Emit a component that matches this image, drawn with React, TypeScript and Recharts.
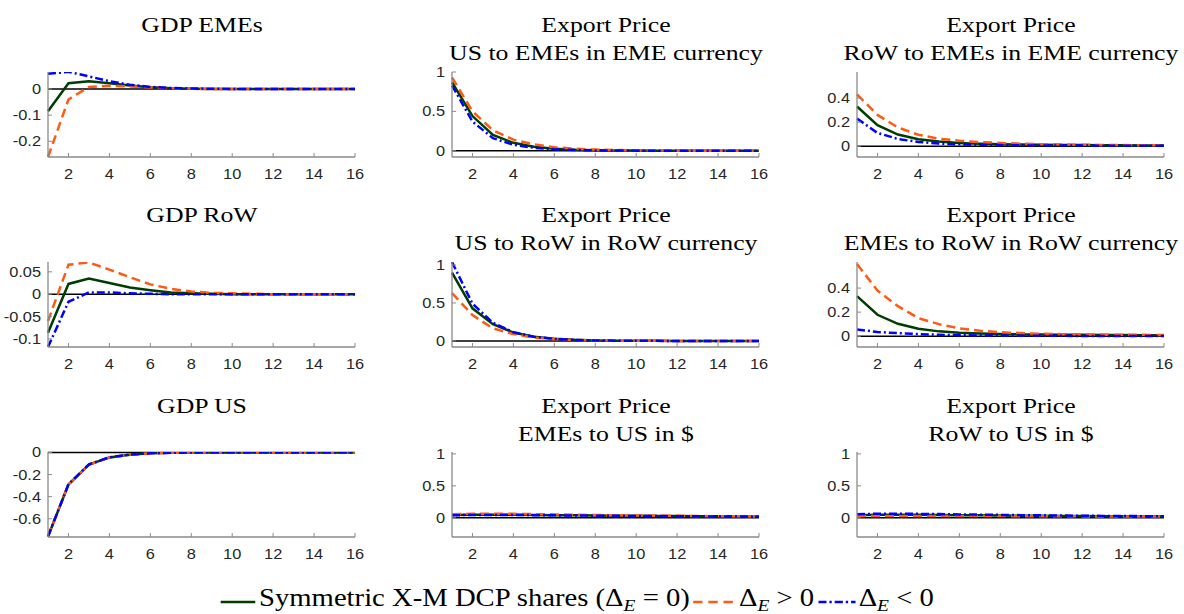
import React from 'react';
import { LineChart, Line, XAxis, YAxis, ReferenceLine } from 'recharts';

// horizon (quarters) and axis ticks
const periods = [1, 2, 3, 4, 5, 6, 7, 8, 9, 10, 11, 12, 13, 14, 15, 16];
const xTicks = [2, 4, 6, 8, 10, 12, 14, 16];

// GDP EMEs
const gdpEmesSym = [-0.085, 0.022, 0.03, 0.022, 0.013, 0.007, 0.003, 0.001, 0, 0, 0, 0, 0, 0, 0, 0];
const gdpEmesPos = [-0.26, -0.04, 0.008, 0.012, 0.01, 0.006, 0.003, 0.001, 0, 0, 0, 0, 0, 0, 0, 0];
const gdpEmesNeg = [0.058, 0.066, 0.048, 0.03, 0.016, 0.008, 0.004, 0.002, 0.001, 0, 0, 0, 0, 0, 0, 0];

// GDP RoW
const gdpRowSym = [-0.086, 0.023, 0.035, 0.025, 0.015, 0.009, 0.004, 0.002, 0.001, 0, 0, 0, 0, 0, 0, 0];
const gdpRowPos = [-0.06, 0.066, 0.071, 0.055, 0.038, 0.022, 0.012, 0.006, 0.003, 0.002, 0.001, 0, 0, 0, 0, 0];
const gdpRowNeg = [-0.118, -0.017, 0.004, 0.004, 0.002, 0.001, 0, 0, 0, 0, 0, 0, 0, 0, 0, 0];

// GDP US
const gdpUsSym = [-0.76, -0.29, -0.11, -0.045, -0.02, -0.008, -0.003, -0.001, 0, 0, 0, 0, 0, 0, 0, 0];
const gdpUsPos = [-0.76, -0.29, -0.112, -0.046, -0.02, -0.008, -0.003, -0.001, 0, 0, 0, 0, 0, 0, 0, 0];
const gdpUsNeg = [-0.76, -0.288, -0.108, -0.044, -0.019, -0.007, -0.003, -0.001, 0, 0, 0, 0, 0, 0, 0, 0];

// Export price US -> EMEs (EME currency)
const pxUsEmeSym = [0.87, 0.44, 0.2, 0.1, 0.05, 0.025, 0.012, 0.006, 0.003, 0.002, 0.001, 0, 0, 0, 0, 0];
const pxUsEmePos = [0.93, 0.5, 0.26, 0.14, 0.08, 0.045, 0.025, 0.014, 0.008, 0.004, 0.002, 0.001, 0.001, 0, 0, 0];
const pxUsEmeNeg = [0.83, 0.37, 0.16, 0.075, 0.037, 0.018, 0.009, 0.004, 0.002, 0.001, 0, 0, 0, 0, 0, 0];

// Export price RoW -> EMEs (EME currency)
const pxRowEmeSym = [0.33, 0.175, 0.097, 0.058, 0.038, 0.027, 0.021, 0.017, 0.014, 0.012, 0.01, 0.009, 0.008, 0.007, 0.006, 0.006];
const pxRowEmePos = [0.43, 0.26, 0.155, 0.095, 0.062, 0.045, 0.034, 0.027, 0.021, 0.017, 0.014, 0.012, 0.01, 0.009, 0.008, 0.007];
const pxRowEmeNeg = [0.23, 0.11, 0.06, 0.035, 0.022, 0.015, 0.011, 0.009, 0.007, 0.006, 0.005, 0.005, 0.004, 0.004, 0.003, 0.003];

// Export price US -> RoW (RoW currency)
const pxUsRowSym = [0.9, 0.43, 0.22, 0.11, 0.055, 0.028, 0.014, 0.007, 0.004, 0.002, 0.001, 0, 0, 0, 0, 0];
const pxUsRowPos = [0.63, 0.34, 0.165, 0.09, 0.045, 0.023, 0.012, 0.006, 0.003, 0.002, 0.001, 0, 0, 0, 0, 0];
const pxUsRowNeg = [1.04, 0.49, 0.24, 0.115, 0.055, 0.027, 0.013, 0.006, 0.003, 0.002, 0.001, 0, 0, 0, 0, 0];

// Export price EMEs -> RoW (RoW currency)
const pxEmeRowSym = [0.333, 0.178, 0.103, 0.062, 0.04, 0.028, 0.022, 0.018, 0.015, 0.013, 0.012, 0.011, 0.01, 0.009, 0.008, 0.008];
const pxEmeRowPos = [0.6, 0.38, 0.25, 0.15, 0.1, 0.065, 0.045, 0.033, 0.026, 0.02, 0.017, 0.015, 0.013, 0.012, 0.011, 0.01];
const pxEmeRowNeg = [0.056, 0.035, 0.025, 0.017, 0.012, 0.008, 0.006, 0.005, 0.004, 0.003, 0.003, 0.002, 0.002, 0.002, 0.002, 0.002];

// Export price EMEs -> US ($)
const pxEmeUsSym = [0.045, 0.05, 0.05, 0.048, 0.045, 0.042, 0.039, 0.036, 0.033, 0.031, 0.029, 0.027, 0.025, 0.023, 0.021, 0.02];
const pxEmeUsPos = [0.055, 0.065, 0.065, 0.062, 0.058, 0.053, 0.048, 0.044, 0.04, 0.037, 0.034, 0.031, 0.028, 0.026, 0.024, 0.022];
const pxEmeUsNeg = [0.04, 0.045, 0.045, 0.044, 0.042, 0.039, 0.036, 0.034, 0.031, 0.029, 0.027, 0.025, 0.023, 0.021, 0.02, 0.018];

// Export price RoW -> US ($)
const pxRowUsSym = [0.04, 0.05, 0.05, 0.048, 0.045, 0.042, 0.039, 0.036, 0.033, 0.031, 0.029, 0.027, 0.025, 0.023, 0.021, 0.02];
const pxRowUsPos = [0.025, 0.03, 0.03, 0.03, 0.03, 0.029, 0.028, 0.027, 0.026, 0.025, 0.024, 0.023, 0.022, 0.021, 0.02, 0.019];
const pxRowUsNeg = [0.055, 0.065, 0.065, 0.062, 0.058, 0.054, 0.05, 0.046, 0.042, 0.039, 0.036, 0.033, 0.03, 0.028, 0.026, 0.024];

const GREEN = '#003d00';
const ORANGE = '#ff5a14';
const BLUE = '#0000ff';
const AXIS = '#8a8a8a';
const SERIF = '"Liberation Serif", "Times New Roman", serif';
const SANS = '"Liberation Sans", Arial, sans-serif';
const SX = 1.17; // the figure is stretched horizontally

const PLOT_W = 307;
const PLOT_H = 85;
const YW = 60;
const MT = 12;
const MR = 14;
const XH = 30;
const colX = [48, 452, 857];
const rowY = [72, 262, 452];
const titleY = [25, 215, 406];

const makeRows = (sym: number[], pos: number[], neg: number[]) =>
  periods.map((t, i) => ({ t, sym: sym[i], pos: pos[i], neg: neg[i] }));

const panels = [
  { row: 0, col: 0, title: ['GDP EMEs'], domain: [-0.26, 0.065], ticks: [-0.2, -0.1, 0], data: makeRows(gdpEmesSym, gdpEmesPos, gdpEmesNeg) },
  { row: 0, col: 1, title: ['Export Price', 'US to EMEs in EME currency'], domain: [-0.08, 1], ticks: [0, 0.5, 1], data: makeRows(pxUsEmeSym, pxUsEmePos, pxUsEmeNeg) },
  { row: 0, col: 2, title: ['Export Price', 'RoW to EMEs in EME currency'], domain: [-0.09, 0.617], ticks: [0, 0.2, 0.4], data: makeRows(pxRowEmeSym, pxRowEmePos, pxRowEmeNeg) },
  { row: 1, col: 0, title: ['GDP RoW'], domain: [-0.118, 0.072], ticks: [-0.1, -0.05, 0, 0.05], data: makeRows(gdpRowSym, gdpRowPos, gdpRowNeg) },
  { row: 1, col: 1, title: ['Export Price', 'US to RoW in RoW currency'], domain: [-0.08, 1.04], ticks: [0, 0.5, 1], data: makeRows(pxUsRowSym, pxUsRowPos, pxUsRowNeg) },
  { row: 1, col: 2, title: ['Export Price', 'EMEs to RoW in RoW currency'], domain: [-0.09, 0.617], ticks: [0, 0.2, 0.4], data: makeRows(pxEmeRowSym, pxEmeRowPos, pxEmeRowNeg) },
  { row: 2, col: 0, title: ['GDP US'], domain: [-0.765, 0.004], ticks: [-0.6, -0.4, -0.2, 0], data: makeRows(gdpUsSym, gdpUsPos, gdpUsNeg) },
  { row: 2, col: 1, title: ['Export Price', 'EMEs to US in $'], domain: [-0.3, 1.03], ticks: [0, 0.5, 1], data: makeRows(pxEmeUsSym, pxEmeUsPos, pxEmeUsNeg) },
  { row: 2, col: 2, title: ['Export Price', 'RoW to US in $'], domain: [-0.3, 1.03], ticks: [0, 0.5, 1], data: makeRows(pxRowUsSym, pxRowUsPos, pxRowUsNeg) },
];

const XTick = (props: any) => {
  const { x, y, payload } = props;
  return (
    <g transform={`translate(${x},${y})`}>
      <text transform={`scale(${SX},1)`} textAnchor="middle" dy="0.71em" fontSize={14} fill="#262626" fontFamily={SANS}>
        {payload.value}
      </text>
    </g>
  );
};

const YTick = (props: any) => {
  const { x, y, payload } = props;
  return (
    <g transform={`translate(${x},${y})`}>
      <text transform={`scale(${SX},1)`} textAnchor="end" dy="0.355em" fontSize={14} fill="#262626" fontFamily={SANS}>
        {String(payload.value)}
      </text>
    </g>
  );
};

const Title = ({ lines, cx, top }: { lines: string[]; cx: number; top: number }) => (
  <>
    {lines.map((s, i) => (
      <div
        key={i}
        style={{
          position: 'absolute', left: cx - 250, width: 500, top: top - 14 + i * 28, height: 28,
          lineHeight: '28px', textAlign: 'center', fontFamily: SERIF, fontSize: 22, color: '#000',
          transform: `scaleX(${SX})`, whiteSpace: 'nowrap',
        }}
      >
        {s}
      </div>
    ))}
  </>
);

const Panel = ({ p }: { p: (typeof panels)[number] }) => {
  const left = colX[p.col] - YW;
  const top = rowY[p.row] - MT;
  return (
    <div style={{ position: 'absolute', left, top }}>
      <LineChart width={YW + PLOT_W + MR} height={MT + PLOT_H + XH} data={p.data} margin={{ top: MT, right: MR, left: 0, bottom: 0 }}>
        <XAxis
          dataKey="t" type="number" domain={[1, 16]} ticks={xTicks} height={XH}
          axisLine={{ stroke: AXIS, strokeWidth: 1.3 }} tickLine={{ stroke: AXIS }} tickSize={-4} tickMargin={16}
          tick={<XTick />} interval={0}
        />
        <YAxis
          type="number" domain={p.domain} ticks={p.ticks} width={YW} allowDataOverflow
          axisLine={{ stroke: AXIS, strokeWidth: 1.3 }} tickLine={{ stroke: AXIS }} tickSize={-4} tickMargin={11}
          tick={<YTick />} interval={0}
        />
        <ReferenceLine y={0} stroke="#000" strokeWidth={1.5} />
        <Line type="linear" dataKey="sym" stroke={GREEN} strokeWidth={2.5} dot={false} isAnimationActive={false} />
        <Line type="linear" dataKey="pos" stroke={ORANGE} strokeWidth={2.5} strokeDasharray="9 5" dot={false} isAnimationActive={false} />
        <Line type="linear" dataKey="neg" stroke={BLUE} strokeWidth={2.5} strokeDasharray="8 3 2 3" dot={false} isAnimationActive={false} />
      </LineChart>
    </div>
  );
};

const Delta = () => (
  <span>
    Δ<sub style={{ fontStyle: 'italic', fontSize: '0.68em', verticalAlign: '-0.3em' }}>E</sub>
  </span>
);

const Sample = ({ color, dash, w }: { color: string; dash?: string; w: number }) => (
  <svg width={w} height={12} style={{ margin: '0 3px' }}>
    <line x1={0} y1={6} x2={w} y2={6} stroke={color} strokeWidth={2.5} strokeDasharray={dash} />
  </svg>
);

export default function App() {
  return (
    <div style={{ position: 'absolute', left: 0, top: 0, width: 1184, height: 614, background: '#fff', overflow: 'hidden' }}>
      {panels.map((p, i) => (
        <React.Fragment key={i}>
          <Title lines={p.title} cx={colX[p.col] + PLOT_W / 2} top={titleY[p.row]} />
          <Panel p={p} />
        </React.Fragment>
      ))}
      <div style={{ position: 'absolute', left: -17, top: 583, width: 1184, display: 'flex', justifyContent: 'center' }}>
        <div
          style={{
            display: 'flex', alignItems: 'center', transform: `scaleX(${SX})`, fontFamily: SERIF,
            fontSize: 24.5, color: '#000', whiteSpace: 'nowrap', lineHeight: '30px',
          }}
        >
          <Sample color={GREEN} w={30} />
          <span>Symmetric X-M DCP shares (<Delta /> = 0)</span>
          <Sample color={ORANGE} dash="8 5" w={36} />
          <span><Delta /> &gt; 0</span>
          <Sample color={BLUE} dash="7 2.5 2 2.5" w={32} />
          <span><Delta /> &lt; 0</span>
        </div>
      </div>
    </div>
  );
}
